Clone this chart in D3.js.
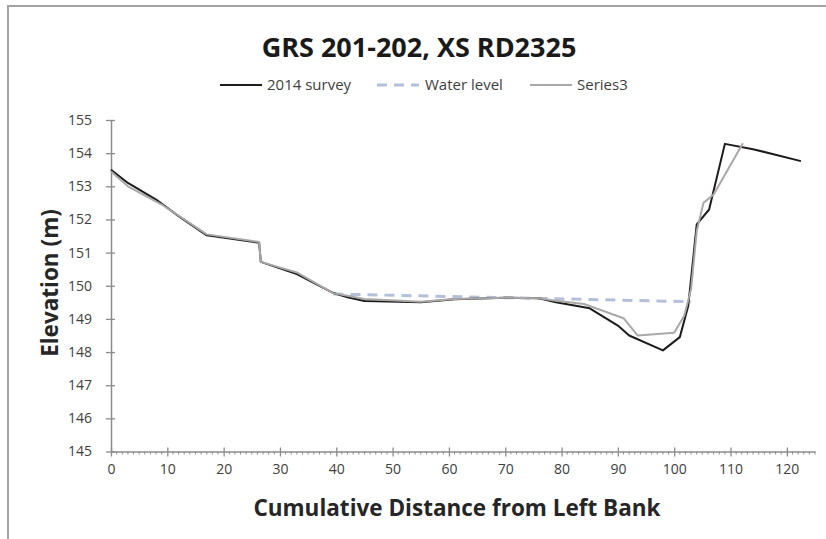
<!DOCTYPE html>
<html><head><meta charset="utf-8">
<script src="https://cdn.jsdelivr.net/npm/d3@7"></script>
<style>body{margin:0;background:#fff}svg{display:block}</style>
</head><body>
<svg id="c" width="826" height="539"></svg>
<script>
const title = "GRS 201-202, XS RD2325";
const seriesNames = ["2014 survey", "Water level", "Series3"];
const surveyX = [0, 3, 8, 12, 17, 26.3, 26.6, 33, 39.5, 42, 45, 55, 61, 70, 76, 79, 85, 90, 92, 98, 101, 102.5, 104, 106.2, 109, 114, 122.5];
const surveyY = [153.5, 153.1, 152.6, 152.1, 151.52, 151.3, 150.72, 150.35, 149.78, 149.65, 149.54, 149.5, 149.59, 149.64, 149.62, 149.5, 149.32, 148.8, 148.5, 148.05, 148.45, 149.4, 151.85, 152.3, 154.28, 154.12, 153.76];
const waterX = [39.5, 103];
const waterY = [149.75, 149.52];
const s3X = [0, 3, 9, 13, 17, 26.3, 26.6, 33, 39.5, 42, 45, 55, 61, 70, 76, 79, 84, 91, 93.5, 100, 101.8, 103, 104, 105.2, 107, 112.2];
const s3Y = [153.45, 153.0, 152.45, 152.0, 151.55, 151.32, 150.72, 150.4, 149.77, 149.7, 149.6, 149.52, 149.6, 149.64, 149.62, 149.55, 149.45, 149.02, 148.5, 148.58, 149.1, 149.9, 151.65, 152.5, 152.75, 154.3];
const xTicks = [0, 10, 20, 30, 40, 50, 60, 70, 80, 90, 100, 110, 120];
const yTicks = [145, 146, 147, 148, 149, 150, 151, 152, 153, 154, 155];
const xLabel = "Cumulative Distance from Left Bank";
const yLabel = "Elevation (m)";

const svg = d3.select("#c");
const font = "'Open Sans', 'Noto Sans', sans-serif";
svg.append("rect").attr("x", 8).attr("y", 6).attr("width", 840).attr("height", 560)
  .attr("fill", "none").attr("stroke", "#a3a3a3").attr("stroke-width", 2);

const x = d3.scaleLinear().domain([0, 125]).range([111, 815]);
const y = d3.scaleLinear().domain([145, 155]).range([451.5, 120]);
const axisCol = "#8c8c8c";

// minor x ticks
const minor = d3.range(0, 126, 1).filter(v => v % 10 !== 0);
svg.append("g").selectAll("line").data(minor).join("line")
  .attr("x1", d => x(d)).attr("x2", d => x(d)).attr("y1", y(145)).attr("y2", y(145) + 3)
  .attr("stroke", axisCol).attr("stroke-width", 1);

// x axis
const gx = svg.append("g").attr("transform", `translate(0,${y(145)})`)
  .call(d3.axisBottom(x).tickValues(xTicks).tickSize(5).tickSizeOuter(0).tickPadding(8));
gx.selectAll(".tick line").attr("y1", -4);
// y axis
const gy = svg.append("g").attr("transform", `translate(${x(0)},0)`)
  .call(d3.axisLeft(y).tickValues(yTicks).tickSize(5).tickSizeOuter(0).tickPadding(14));
gy.selectAll(".tick line").attr("x1", 4);
[gx, gy].forEach(g => {
  g.select(".domain").attr("stroke", axisCol).attr("stroke-width", 1.5);
  g.selectAll(".tick line").attr("stroke", axisCol).attr("stroke-width", 1.3);
  g.selectAll("text").attr("font-family", font).attr("font-size", 14).attr("fill", "#404040");
});

const line = d3.line().x(d => x(d[0])).y(d => y(d[1]));
const zip = (a, b) => a.map((v, i) => [v, b[i]]);
svg.append("path").datum(zip(waterX, waterY)).attr("d", line).attr("fill", "none")
  .attr("stroke", "#b3c0dc").attr("stroke-width", 3).attr("stroke-dasharray", "10,7");
svg.append("path").datum(zip(surveyX, surveyY)).attr("d", line).attr("fill", "none")
  .attr("stroke", "#1c1c1c").attr("stroke-width", 2).attr("stroke-linejoin", "round");
svg.append("path").datum(zip(s3X, s3Y)).attr("d", line).attr("fill", "none")
  .attr("stroke", "#aaa7a6").attr("stroke-width", 2).attr("stroke-linejoin", "round");

// title
svg.append("text").attr("x", 419).attr("y", 57).attr("text-anchor", "middle")
  .attr("font-family", font).attr("font-weight", "bold").attr("font-size", 27).attr("fill", "#1a1a1a")
  .text(title);

// legend
const leg = [
  {x: 220, tx: 267, col: "#1c1c1c", dash: null},
  {x: 377, tx: 425, col: "#b3c0dc", dash: "10,7"},
  {x: 530, tx: 577, col: "#aaa7a6", dash: null}
];
leg.forEach((l, i) => {
  svg.append("line").attr("x1", l.x).attr("x2", l.x + 42).attr("y1", 85).attr("y2", 85)
    .attr("stroke", l.col).attr("stroke-width", i === 1 ? 3 : 2).attr("stroke-dasharray", l.dash);
  svg.append("text").attr("x", l.tx).attr("y", 90).attr("font-family", font).attr("font-size", 15)
    .attr("fill", "#404040").text(seriesNames[i]);
});

svg.append("text").attr("x", 457).attr("y", 516).attr("text-anchor", "middle")
  .attr("font-family", font).attr("font-weight", "bold").attr("font-size", 22.5).attr("fill", "#262626")
  .text(xLabel);
svg.append("text").attr("transform", "translate(58,283) rotate(-90)").attr("text-anchor", "middle")
  .attr("font-family", font).attr("font-weight", "bold").attr("font-size", 22.5).attr("fill", "#262626")
  .text(yLabel);
</script>
</body></html>
